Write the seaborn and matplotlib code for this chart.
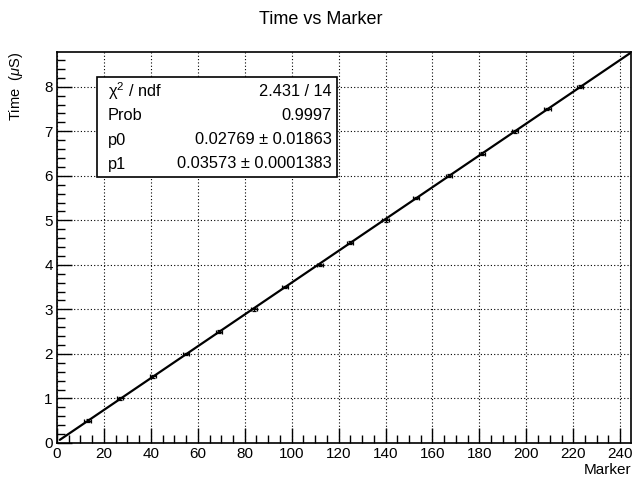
import numpy as np
import matplotlib
matplotlib.use('Agg')
import matplotlib.pyplot as plt
import seaborn as sns
from matplotlib.patches import Rectangle
from matplotlib.ticker import MultipleLocator

# Data
marker = [13, 27, 41, 55, 69, 84, 97, 112, 125, 140, 153, 167, 181, 195, 209, 223]
time_us = [0.5, 1.0, 1.5, 2.0, 2.5, 3.0, 3.5, 4.0, 4.5, 5.0, 5.5, 6.0, 6.5, 7.0, 7.5, 8.0]
marker_err = [1.3] * len(marker)
time_err = [0.03] * len(marker)

# Fit parameters (pol1) as printed in the stats box
p0, p1 = 0.02769, 0.03573
fit_range = [1.2, 245]

stats_labels = ['χ$^2$ / ndf', 'Prob', 'p0', 'p1']
stats_values = ['2.431 / 14', '0.9997', '0.02769 ± 0.01863', '0.03573 ± 0.0001383']

sns.set_theme(style='white')
plt.rcParams['font.family'] = ['Liberation Sans', 'DejaVu Sans']
plt.rcParams['mathtext.fontset'] = 'custom'
plt.rcParams['mathtext.rm'] = 'Liberation Sans'
plt.rcParams['mathtext.it'] = 'Liberation Sans:italic'
plt.rcParams['text.color'] = 'black'
plt.rcParams['axes.labelcolor'] = 'black'

fig = plt.figure(figsize=(6.32, 4.79), dpi=100)
ax = fig.add_axes([57 / 632, 1 - 443 / 479, 574 / 632, 391 / 479])

fit_x = np.array(fit_range)
sns.lineplot(x=fit_x, y=p0 + p1 * fit_x, ax=ax, color='black', linewidth=1.6)
ax.errorbar(marker, time_us, xerr=marker_err, yerr=time_err, fmt='none',
            ecolor='black', elinewidth=0.9, capsize=1.2, capthick=0.9, zorder=3)

ax.set_xlim(0, 244.6)
ax.set_ylim(0, 8.78)
ax.xaxis.set_major_locator(MultipleLocator(20))
ax.xaxis.set_minor_locator(MultipleLocator(5))
ax.yaxis.set_major_locator(MultipleLocator(1))
ax.yaxis.set_minor_locator(MultipleLocator(0.2))
ax.tick_params(axis='both', which='major', direction='in', length=11, width=1,
               color='black', labelsize=11, labelcolor='black', pad=3)
ax.tick_params(axis='both', which='minor', direction='in', length=5.5, width=1, color='black')
ax.tick_params(bottom=True, left=True, top=False, right=False, which='both')
ax.grid(True, which='major', color='black', linestyle=(0, (1, 2)), linewidth=0.8)
for s in ax.spines.values():
    s.set_color('black')
    s.set_linewidth(1.2)

ax.set_xlabel('Marker', fontsize=11, loc='right', labelpad=1)
ax.set_ylabel('Time  ($\\mu$S)', fontsize=10.5, loc='top', labelpad=14)
fig.text(0.508, 1 - 20 / 479, 'Time vs Marker', ha='center', va='center', fontsize=13)

# stats box
x0, x1 = (97 - 57) / 574, (337 - 57) / 574
y0, y1 = (443 - 177) / 391, (443 - 77) / 391
ax.add_patch(Rectangle((x0, y0), x1 - x0, y1 - y0, transform=ax.transAxes,
                       facecolor='white', edgecolor='black', linewidth=1.2, zorder=5))
rows_px = [91, 116, 140, 164]
for lab, val, py in zip(stats_labels, stats_values, rows_px):
    yy = (443 - py) / 391
    ax.text((108 - 57) / 574, yy, lab, transform=ax.transAxes, ha='left', va='center',
            fontsize=11.8, zorder=6)
    ax.text((332 - 57) / 574, yy, val, transform=ax.transAxes, ha='right', va='center',
            fontsize=11.8, zorder=6)

fig.savefig('out.png', dpi=100)
